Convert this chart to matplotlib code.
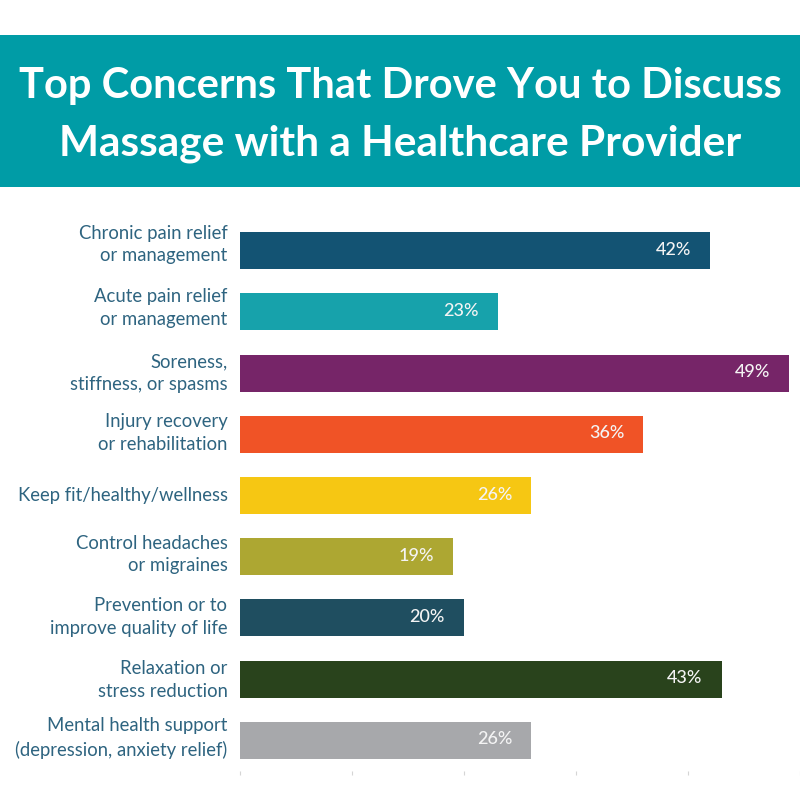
import matplotlib
matplotlib.use("Agg")
import matplotlib.pyplot as plt
from matplotlib.patches import Rectangle
from matplotlib.transforms import ScaledTranslation

categorias = [
    "Chronic pain relief\nor management",
    "Acute pain relief\nor management",
    "Soreness,\nstiffness, or spasms",
    "Injury recovery\nor rehabilitation",
    "Keep fit/healthy/wellness",
    "Control headaches\nor migraines",
    "Prevention or to\nimprove quality of life",
    "Relaxation or\nstress reduction",
    "Mental health support\n(depression, anxiety relief)",
]
valores = [42, 23, 49, 36, 26, 19, 20, 43, 26]
colores = ["#135373", "#17A2AB", "#762568", "#F05326", "#F6C713",
           "#ADA732", "#1F4E60", "#29431C", "#A7A8AB"]
ticks_x = [0, 10, 20, 30, 40, 50]

titulo_1 = "Top Concerns That Drove You to Discuss"
titulo_2 = "Massage with a Healthcare Provider"

plt.rcParams["font.family"] = ["Lato", "DejaVu Sans"]

fig = plt.figure(figsize=(8, 8), dpi=100, facecolor="white")

# banner
fig.add_artist(Rectangle((0, 1 - 187 / 800), 1, 152 / 800, transform=fig.transFigure,
                         facecolor="#009CA6", edgecolor="none"))
fig.text(0.5, 1 - 86 / 800, titulo_1, color="white", fontsize=30, fontweight="bold",
         ha="center", va="center")
fig.text(0.5, 1 - 144 / 800, titulo_2, color="white", fontsize=30.55, fontweight="bold",
         ha="center", va="center")

# chart area: x 240-800 px, y 220-771 px
ax = fig.add_axes([240 / 800, 1 - 771 / 800, 560 / 800, 551 / 800])
ax.barh(range(len(valores)), valores, height=0.605, color=colores, edgecolor="none")
ax.set_xlim(0, 50)
ax.set_ylim(8.5, -0.5)

for i, v in enumerate(valores):
    ax.annotate(f"{v}%", xy=(v, i), xytext=(-19, 1), textcoords="offset pixels",
                color="#F4F4F4", fontsize=13, fontweight="medium",
                ha="right", va="center")

ax.set_yticks(range(len(categorias)), categorias)
ax.tick_params(axis="y", length=0, pad=9, labelsize=13.35, labelcolor="#2E6480")

# the labels do not sit exactly on the bar centres in the original (px up)
ajuste_px = [10.5, 8.5, 4.5, 5.5, 2, 6.5, 5.5, 3.5, 7]
for lab, dy in zip(ax.get_yticklabels(), ajuste_px):
    lab.set_multialignment("right")
    lab.set_linespacing(1.41)
    lab.set_transform(lab.get_transform() + ScaledTranslation(0, dy / 100, fig.dpi_scale_trans))

ax.set_xticks(ticks_x, [""] * len(ticks_x))
ax.tick_params(axis="x", length=3, width=0.8, color="#D5D5D5", pad=0)

for s in ax.spines.values():
    s.set_visible(False)

fig.savefig("out.png", dpi=100, facecolor="white")
